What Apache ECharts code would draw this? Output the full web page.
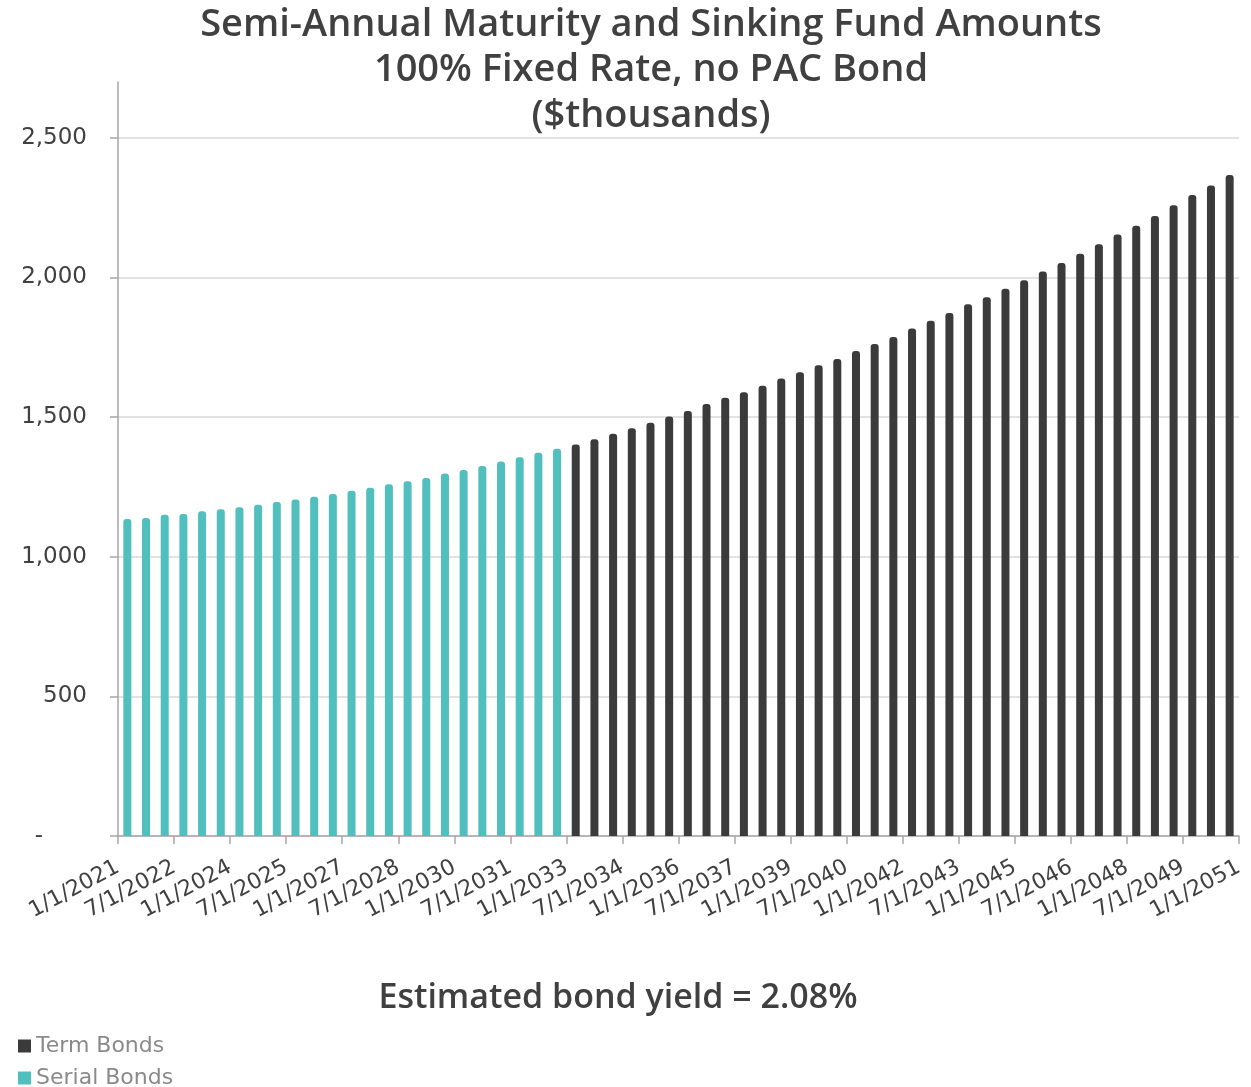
<!DOCTYPE html>
<html><head><meta charset="utf-8">
<script src="https://cdn.jsdelivr.net/npm/echarts@6/dist/echarts.min.js"></script>
<style>html,body{margin:0;padding:0;background:#fff}#c{width:1251px;height:1087px}</style>
</head><body><div id="c"></div>
<script>
const categories = [
 '1/1/2021','7/1/2021','1/1/2022','7/1/2022','1/1/2023','7/1/2023','1/1/2024','7/1/2024',
 '1/1/2025','7/1/2025','1/1/2026','7/1/2026','1/1/2027','7/1/2027','1/1/2028','7/1/2028',
 '1/1/2029','7/1/2029','1/1/2030','7/1/2030','1/1/2031','7/1/2031','1/1/2032','7/1/2032',
 '1/1/2033','7/1/2033','1/1/2034','7/1/2034','1/1/2035','7/1/2035','1/1/2036','7/1/2036',
 '1/1/2037','7/1/2037','1/1/2038','7/1/2038','1/1/2039','7/1/2039','1/1/2040','7/1/2040',
 '1/1/2041','7/1/2041','1/1/2042','7/1/2042','1/1/2043','7/1/2043','1/1/2044','7/1/2044',
 '1/1/2045','7/1/2045','1/1/2046','7/1/2046','1/1/2047','7/1/2047','1/1/2048','7/1/2048',
 '1/1/2049','7/1/2049','1/1/2050','7/1/2050'
];
const tickLabels = categories.concat(['1/1/2051']);
const serialBonds = [1135,1139,1150,1153,1163,1170,1177,1186,1196,1205,1215,1225,
                     1236,1247,1260,1270,1282,1298,1311,1325,1341,1356,1372,1387];
const termBonds = [1402,1421,1440,1460,1480,1502,1522,1547,1569,1589,1612,1638,
                   1661,1686,1708,1737,1762,1787,1817,1845,1873,1904,1929,1960,
                   1990,2021,2052,2085,2119,2154,2185,2220,2259,2295,2329,2367];
const titleLines = ['Semi-Annual Maturity and Sinking Fund Amounts','100% Fixed Rate, no PAC Bond','($thousands)'];
const noteText = 'Estimated bond yield = 2.08%';

const serialData = serialBonds.concat(termBonds.map(() => '-'));
const termData = serialBonds.map(() => '-').concat(termBonds);
const FONT = 'DejaVu Sans';
const TFONT = 'Open Sans';
const legendText = {fontFamily: FONT, fontSize: 22, color: '#8a8a8a', fontWeight: 'normal'};
const chart = echarts.init(document.getElementById('c'), null, {renderer: 'canvas'});
chart.setOption({
  animation: false,
  backgroundColor: '#fff',
  textStyle: {fontFamily: FONT},
  title: {
    text: titleLines.join('\n'), left: 646, textAlign: 'center', top: -3,
    textStyle: {fontFamily: TFONT, fontSize: 38, lineHeight: 45.5, color: '#404040', fontWeight: 600}
  },
  grid: {left: 118, right: 12, top: 82, bottom: 251},
  legend: [
    {data: ['Term Bonds'], left: 13, top: 1030, icon: 'rect', itemWidth: 13, itemHeight: 13, textStyle: legendText},
    {data: ['Serial Bonds'], left: 13, top: 1062, icon: 'rect', itemWidth: 13, itemHeight: 13, textStyle: legendText}
  ],
  xAxis: [
    {type: 'category', data: categories, boundaryGap: true,
     axisLine: {lineStyle: {color: '#a6a6a6', width: 1.5}},
     axisTick: {show: false}, axisLabel: {show: false}, splitLine: {show: false}},
    {type: 'category', data: tickLabels, boundaryGap: false, position: 'bottom',
     axisLine: {show: false},
     axisTick: {show: true, interval: 2, length: 8, lineStyle: {color: '#a6a6a6', width: 1.5}},
     axisLabel: {interval: 2, rotate: 28, fontSize: 22, color: '#404040', margin: 30, fontFamily: FONT},
     splitLine: {show: false}}
  ],
  yAxis: {
    type: 'value', min: 0, max: 2700, interval: 500,
    axisLine: {show: true, lineStyle: {color: '#a6a6a6', width: 1.5}},
    axisTick: {show: true, length: 8, lineStyle: {color: '#a6a6a6', width: 1.5}},
    splitLine: {show: true, showMaxLine: false, lineStyle: {color: '#d9d9d9', width: 1.5}},
    axisLabel: {
      showMaxLabel: false, fontSize: 23, color: '#404040', margin: 31, fontFamily: FONT,
      formatter: v => v === 0 ? '{d|-}' : v.toLocaleString('en-US'),
      rich: {d: {fontSize: 23, color: '#404040', padding: [0, 44, 0, 0], fontFamily: FONT}}
    }
  },
  series: [
    {name: 'Serial Bonds', type: 'bar', stack: 's', xAxisIndex: 0, data: serialData, barWidth: 8,
     itemStyle: {color: '#52bfbf', borderRadius: [3, 3, 0, 0]}},
    {name: 'Term Bonds', type: 'bar', stack: 's', xAxisIndex: 0, data: termData, barWidth: 8,
     itemStyle: {color: '#3b3b3b', borderRadius: [3, 3, 0, 0]}}
  ],
  graphic: [{
    type: 'text', x: 618, y: 998,
    style: {text: noteText, fontSize: 34, fontFamily: TFONT, fill: '#404040', fontWeight: 600,
            align: 'center', verticalAlign: 'middle'}
  }]
});
</script></body></html>
